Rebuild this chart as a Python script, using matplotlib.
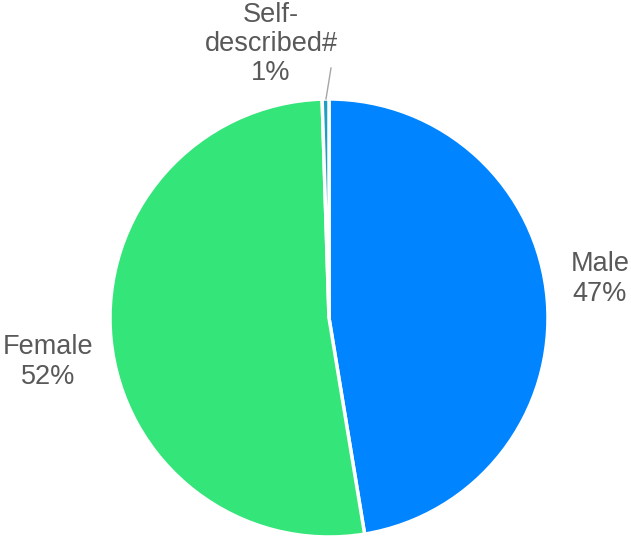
import matplotlib.pyplot as plt

# Gender split
labels = ["Male", "Female", "Self-\ndescribed#"]
values = [47.4, 52.1, 0.5]
pct_text = ["47%", "52%", "1%"]
colors = ["#0084FF", "#34E57A", "#1E9FC2"]

W, H = 631, 538
fig = plt.figure(figsize=(W / 100, H / 100), dpi=100)
ax = fig.add_axes([0, 0, 1, 1])

cx, cy, r = 329, H - 318, 219
ax.pie(values, colors=colors, startangle=90, counterclock=False,
       center=(cx, cy), radius=r,
       wedgeprops=dict(edgecolor="white", linewidth=2.5))

ax.set_xlim(0, W)
ax.set_ylim(0, H)
ax.set_aspect("equal")
ax.axis("off")

txt = dict(fontsize=19.5, color="#595959", family="Liberation Sans",
           ha="center", va="center", linespacing=1.17)
ax.text(600, H - 279, f"{labels[0]}\n{pct_text[0]}", **txt)
ax.text(48, H - 362, f"{labels[1]}\n{pct_text[1]}", **txt)
ax.text(271, H - 44, f"{labels[2]}\n{pct_text[2]}", **txt)

# leader line for the small slice
ax.plot([326, 331], [H - 99, H - 68], color="#A6A6A6", linewidth=1)

fig.savefig("out.png", dpi=100)
